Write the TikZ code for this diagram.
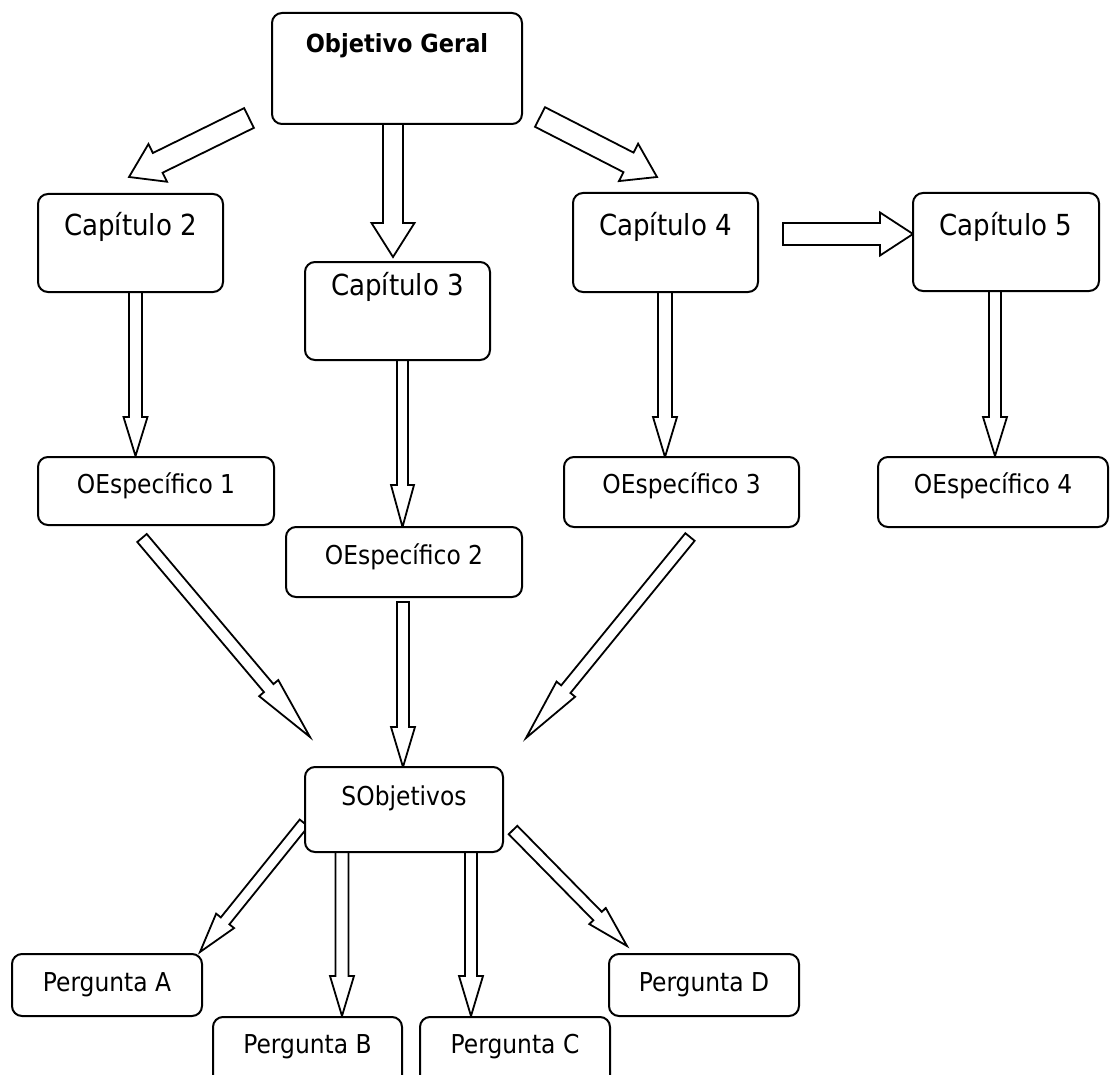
\documentclass[tikz,border=0pt]{standalone}
\usepackage{fontspec}
\setmainfont{DejaVu Sans}[FakeStretch=0.9]
\usetikzlibrary{calc}
\tikzset{
  box/.style={draw, line width=2pt, rounded corners=10pt, fill=white, inner sep=0pt,
    text height=20pt, text depth=#1, font=\fontsize{26}{30}\selectfont},
  chap/.style={font=\fontsize{29}{34}\selectfont},
  ogfont/.style={font=\fontsize{25}{30}\selectfont\bfseries},
  blk/.style={draw, line width=1.8pt, fill=white, line join=miter},
}
\newcommand\blockarrow[5]{%
  \coordinate (hb) at ($(#2)!#5!(#1)$);
  \draw[blk] ($(#1)!#3!90:(#2)$) -- ($(hb)!#3!90:(#2)$) -- ($(hb)!#4!90:(#2)$) -- (#2)
    -- ($(hb)!#4!-90:(#2)$) -- ($(hb)!#3!-90:(#2)$) -- ($(#1)!#3!-90:(#2)$) -- cycle;}
\begin{document}
\begin{tikzpicture}[x=1pt,y=-1pt]
\useasboundingbox (0,0) rectangle (1110,1075);
\clip (0,0) rectangle (1110,1075);
\fill[white] (0,0) rectangle (1110,1075);

% arrow end points
\coordinate (t1) at (249,118);  \coordinate (p1) at (129,177);
\coordinate (t2) at (393,124);  \coordinate (p2) at (393,257);
\coordinate (t3) at (540,117);  \coordinate (p3) at (657,177);
\coordinate (t4) at (135.5,292); \coordinate (p4) at (135.5,456);
\coordinate (t5) at (402.5,360); \coordinate (p5) at (402.5,527);
\coordinate (t6) at (665,292);  \coordinate (p6) at (665,457);
\coordinate (t7) at (783,234);  \coordinate (p7) at (913,234);
\coordinate (t8) at (995,291);  \coordinate (p8) at (995,456);
\coordinate (t9) at (142,538);  \coordinate (p9) at (310,737);
\coordinate (t10) at (403,602); \coordinate (p10) at (403,767);
\coordinate (t11) at (690,537); \coordinate (p11) at (526,738);
\coordinate (t12) at (304,823); \coordinate (p12) at (200,952);
\coordinate (t13) at (342,852); \coordinate (p13) at (342,1016);
\coordinate (t14) at (471,852); \coordinate (p14) at (471,1016);
\coordinate (t15) at (513,830); \coordinate (p15) at (627,946);

\blockarrow{t1}{p1}{11pt}{21pt}{32pt}
\blockarrow{t2}{p2}{10pt}{21.5pt}{34pt}
\blockarrow{t3}{p3}{11pt}{21pt}{32pt}
\blockarrow{t4}{p4}{6.5pt}{12pt}{39pt}
\blockarrow{t5}{p5}{5.5pt}{11.5pt}{42pt}
\blockarrow{t6}{p6}{7pt}{12pt}{40pt}
\blockarrow{t7}{p7}{11pt}{21.5pt}{33pt}
\blockarrow{t8}{p8}{6pt}{12pt}{39pt}
\blockarrow{t9}{p9}{6.2pt}{12.5pt}{64pt}
\blockarrow{t10}{p10}{6pt}{12pt}{40pt}
\blockarrow{t11}{p11}{6pt}{12pt}{63pt}
\blockarrow{t12}{p12}{5.5pt}{11.5pt}{40pt}
\blockarrow{t13}{p13}{6.5pt}{12pt}{40pt}
\blockarrow{t14}{p14}{6pt}{12pt}{40pt}
\blockarrow{t15}{p15}{6pt}{11.5pt}{42pt}

% boxes
\node[box=51pt, ogfont, minimum width=250pt, minimum height=111pt] (og) at (397,68.5) {Objetivo Geral};
\node[box=34pt, chap, minimum width=185pt, minimum height=98pt] (cap2) at (130.5,243) {Capítulo 2};
\node[box=52pt, chap, minimum width=185pt, minimum height=98pt] (cap3) at (397.5,311) {Capítulo 3};
\node[box=33pt, chap, minimum width=185pt, minimum height=99pt] (cap4) at (665.5,242.5) {Capítulo 4};
\node[box=32pt, chap, minimum width=186pt, minimum height=98pt] (cap5) at (1006,242) {Capítulo 5};
\node[box=16pt, minimum width=236pt, minimum height=68pt] (oe1) at (156,491) {OEspecífico 1};
\node[box=16pt, minimum width=236pt, minimum height=70pt] (oe2) at (404,562) {OEspecífico 2};
\node[box=18pt, minimum width=235pt, minimum height=70pt] (oe3) at (681.5,492) {OEspecífico 3};
\node[box=18pt, minimum width=230pt, minimum height=70pt] (oe4) at (993,492) {OEspecífico 4};
\node[box=29pt, minimum width=198pt, minimum height=85pt] (sobj) at (404,809.5) {SObjetivos};
\node[box=8pt, minimum width=190pt, minimum height=62pt] (pa) at (107,985) {Pergunta A};
\node[box=20pt, minimum width=189pt, minimum height=72pt] (pb) at (307.5,1053) {Pergunta B};
\node[box=20pt, minimum width=190pt, minimum height=72pt] (pc) at (515,1053) {Pergunta C};
\node[box=8pt, minimum width=190pt, minimum height=62pt] (pd) at (704,985) {Pergunta D};
\end{tikzpicture}
\end{document}
